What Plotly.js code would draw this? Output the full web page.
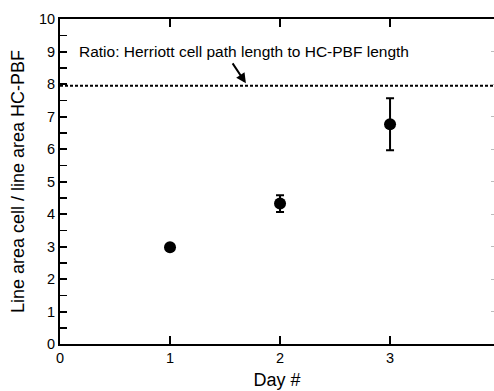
<!DOCTYPE html>
<html>
<head>
<meta charset="utf-8">
<script src="https://cdn.plot.ly/plotly-3.0.1.min.js"></script>
<style>html,body{margin:0;padding:0;background:#fff;}#chart{width:494px;height:391px;}</style>
</head>
<body>
<div id="chart"></div>
<script>
const days = [1, 2, 3];
const ratios = [2.98, 4.32, 6.76];
const errors = [0.05, 0.26, 0.8];
const refRatio = 7.95;
const refLabel = "Ratio: Herriott cell path length to HC-PBF length";
const xTitle = "Day #";
const yTitle = "Line area cell / line area HC-PBF";

const font = "Liberation Sans, Arial, sans-serif";
const traces = [
  {
    x: days, y: ratios, type: "scatter", mode: "markers",
    marker: {color: "#000", size: 12},
    error_y: {type: "data", array: errors, visible: true, color: "#000", thickness: 2, width: 4},
    showlegend: false, hoverinfo: "none"
  },
  {
    x: [0, 3.95], y: [refRatio, refRatio], type: "scatter", mode: "lines",
    line: {color: "#000", width: 2, dash: "3px,2px"},
    showlegend: false, hoverinfo: "none"
  },
  {
    x: [0], y: [0], yaxis: "y2", type: "scatter", mode: "markers",
    marker: {opacity: 0}, showlegend: false, hoverinfo: "none"
  }
];
const layout = {
  width: 494, height: 391,
  margin: {l: 60, r: 0, t: 19, b: 47},
  paper_bgcolor: "#fff", plot_bgcolor: "#fff",
  font: {family: font, color: "#000", size: 14},
  xaxis: {
    range: [0, 3.945], tickvals: [0, 1, 2, 3], ticktext: ["0", "1", "2", "3"],
    ticks: "inside", ticklen: 8, tickwidth: 2, tickcolor: "#000",
    showline: true, linewidth: 2, linecolor: "#000", mirror: "ticks",
    showgrid: false, zeroline: false,
    tickfont: {size: 14.5, family: font},
    title: {text: xTitle, font: {size: 18, family: font}, standoff: 8}
  },
  yaxis: {
    range: [0, 10], dtick: 1, tick0: 0,
    ticks: "inside", ticklen: 7, tickwidth: 2, tickcolor: "#000",
    minor: {dtick: 0.5, ticks: "inside", ticklen: 7, tickwidth: 1.5, tickcolor: "#000"},
    showline: true, linewidth: 2, linecolor: "#000",
    showgrid: false, zeroline: false,
    tickfont: {size: 14.5, family: font},
    title: {text: yTitle, font: {size: 18, family: font}, standoff: 10}
  },
  yaxis2: {
    overlaying: "y", side: "right", range: [0, 10], dtick: 1,
    ticks: "inside", ticklen: 3, tickwidth: 1, tickcolor: "#bbb",
    showticklabels: false, showline: false, showgrid: false, zeroline: false
  },
  annotations: [
    {
      x: 0.155, y: 9.0, xref: "x", yref: "y", text: refLabel, showarrow: false,
      xanchor: "left", yanchor: "middle", font: {size: 15.5, family: font, color: "#000"}
    },
    {
      x: 1.69, y: 8.02, ax: 1.56, ay: 8.68, xref: "x", yref: "y", axref: "x", ayref: "y",
      text: "", showarrow: true, arrowhead: 2, arrowsize: 1, arrowwidth: 2, arrowcolor: "#000"
    }
  ]
};
Plotly.newPlot("chart", traces, layout, {staticPlot: true, displayModeBar: false});
</script>
</body>
</html>
